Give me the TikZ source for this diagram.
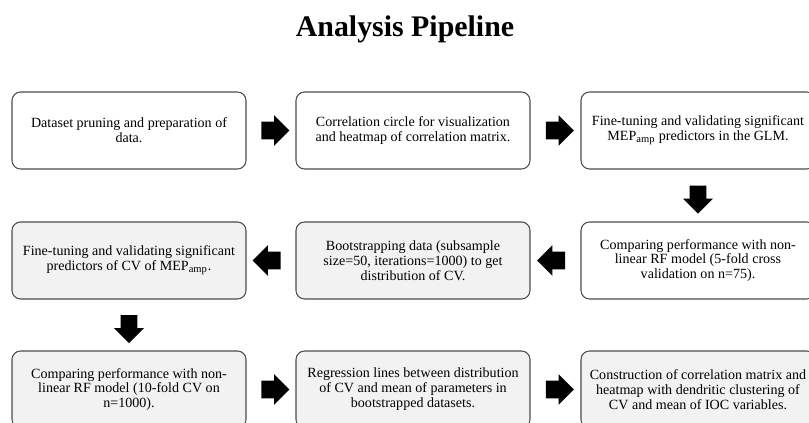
\documentclass[tikz,border=0pt]{standalone}
\usepackage{fontspec}
\setmainfont{Liberation Serif}
\usetikzlibrary{positioning, shapes.arrows, calc}

\tikzset{
  stage/.style={draw=black!70, line width=0.6pt, rounded corners=0.17cm,
    minimum width=4.68cm, minimum height=1.54cm, inner sep=0pt,
    align=center, font=\fontsize{8}{8.5}\selectfont},
  stagegray/.style={stage, fill=black!5},
  blockarrow/.style={single arrow, fill=black, draw=none,
    inner xsep=0pt, inner ysep=0.17cm,
    minimum width=0.6cm, minimum height=0.56cm,
    single arrow head extend=0.13cm},
  downarrow/.style={blockarrow, shape border rotate=270,
    inner xsep=0.16cm, inner ysep=0pt}
}

\begin{document}
\begin{tikzpicture}

\clip (0,0) rectangle (16.18,8.46);

% Title
\node[font=\bfseries\fontsize{17}{20}\selectfont, anchor=base] (title) at (8.1,7.72) {Analysis Pipeline};

% First row
\node[stage] (prune) at (2.58,5.85) {Dataset pruning and preparation of\\data.};
\node[stage] (corr) at (8.26,5.85) {Correlation circle for visualization\\and heatmap of correlation matrix.};
\node[stage] (glm) at (13.96,5.85) {Fine-tuning and validating significant\\MEP\textsubscript{amp} predictors in the GLM.};

% Second row
\node[stage] (rf5) at (13.96,3.25) {Comparing performance with non-\\linear RF model (5-fold cross\\validation on n=75).};
\node[stagegray] (boot) at (8.26,3.25) {Bootstrapping data (subsample\\size=50, iterations=1000) to get\\distribution of CV.};
\node[stagegray] (cvfit) at (2.58,3.25) {Fine-tuning and validating significant\\predictors of CV of MEP\textsubscript{amp}.};

% Third row
\node[stagegray] (rf10) at (2.58,0.67) {Comparing performance with non-\\linear RF model (10-fold CV on\\n=1000).};
\node[stagegray] (reg) at (8.26,0.67) {Regression lines between distribution\\of CV and mean of parameters in\\bootstrapped datasets.};
\node[stagegray] (clust) at (13.96,0.67) {Construction of correlation matrix and\\heatmap with dendritic clustering of\\CV and mean of IOC variables.};

% Block arrows between stages
\node[blockarrow] (a1) at ($(prune.east)!0.5!(corr.west)$) {};
\node[blockarrow] (a2) at ($(corr.east)!0.5!(glm.west)$) {};
\node[downarrow] (a3) at ($(glm.south)!0.5!(rf5.north)$) {};
\node[blockarrow, shape border rotate=180] (a4) at ($(rf5.west)!0.5!(boot.east)$) {};
\node[blockarrow, shape border rotate=180] (a5) at ($(boot.west)!0.5!(cvfit.east)$) {};
\node[downarrow] (a6) at ($(cvfit.south)!0.5!(rf10.north)$) {};
\node[blockarrow] (a7) at ($(rf10.east)!0.5!(reg.west)$) {};
\node[blockarrow] (a8) at ($(reg.east)!0.5!(clust.west)$) {};

\end{tikzpicture}
\end{document}
